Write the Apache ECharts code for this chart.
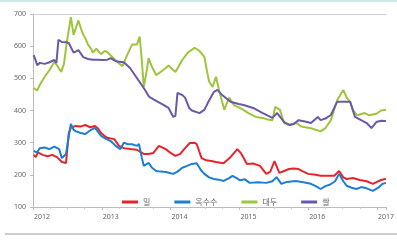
<!DOCTYPE html>
<html><head><meta charset="utf-8">
<script src="https://cdn.jsdelivr.net/npm/echarts@6/dist/echarts.min.js"></script>
<style>html,body{margin:0;padding:0;background:#fff}#c{width:397px;height:242px}</style>
</head><body><div id="c"></div>
<script>
const seriesNames = ['밀', '옥수수', '대두', '쌀'];
const yearTicks = [2012, 2013, 2014, 2015, 2016, 2017];

const wheat = [[2012.01,262],[2012.04,255],[2012.07,270],[2012.14,262],[2012.21,258],[2012.28,262],[2012.35,255],[2012.42,240],[2012.48,237],[2012.52,330],[2012.55,346],[2012.62,352],[2012.69,350],[2012.76,355],[2012.83,348],[2012.90,352],[2012.94,345],[2012.99,330],[2013.04,321],[2013.08,315],[2013.18,311],[2013.25,290],[2013.32,283],[2013.41,280],[2013.51,278],[2013.61,265],[2013.68,265],[2013.75,268],[2013.83,290],[2013.93,280],[2014.00,268],[2014.07,259],[2014.14,265],[2014.21,283],[2014.28,299],[2014.35,300],[2014.38,295],[2014.45,252],[2014.52,245],[2014.59,243],[2014.66,240],[2014.77,236],[2014.87,255],[2014.97,280],[2015.03,265],[2015.11,234],[2015.20,235],[2015.30,228],[2015.39,203],[2015.45,210],[2015.51,243],[2015.58,206],[2015.65,212],[2015.72,218],[2015.79,220],[2015.86,218],[2015.93,210],[2016.00,203],[2016.11,200],[2016.18,197],[2016.30,197],[2016.38,197],[2016.45,212],[2016.51,192],[2016.56,187],[2016.65,190],[2016.75,184],[2016.85,180],[2016.94,172],[2017.00,178],[2017.06,184],[2017.13,188]];

const corn = [[2012.01,274],[2012.06,270],[2012.10,283],[2012.17,285],[2012.24,280],[2012.31,288],[2012.38,280],[2012.42,252],[2012.48,265],[2012.52,320],[2012.55,358],[2012.59,340],[2012.62,336],[2012.69,330],[2012.76,327],[2012.83,338],[2012.90,346],[2012.94,335],[2012.99,321],[2013.06,312],[2013.13,305],[2013.20,290],[2013.27,280],[2013.32,300],[2013.37,296],[2013.44,295],[2013.51,290],[2013.54,296],[2013.58,255],[2013.61,228],[2013.68,237],[2013.73,222],[2013.79,212],[2013.86,210],[2013.93,209],[2014.00,205],[2014.04,203],[2014.10,210],[2014.17,222],[2014.24,228],[2014.31,234],[2014.38,236],[2014.44,215],[2014.49,203],[2014.56,192],[2014.63,187],[2014.70,185],[2014.77,181],[2014.85,190],[2014.90,197],[2014.96,190],[2015.01,183],[2015.08,186],[2015.15,175],[2015.27,177],[2015.39,175],[2015.48,180],[2015.54,193],[2015.61,172],[2015.69,178],[2015.82,181],[2015.93,177],[2016.04,172],[2016.11,165],[2016.18,156],[2016.25,165],[2016.32,170],[2016.39,180],[2016.45,203],[2016.51,180],[2016.56,166],[2016.63,160],[2016.70,156],[2016.77,162],[2016.85,158],[2016.94,150],[2017.03,162],[2017.08,172],[2017.13,175]];

const soybean = [[2012.01,470],[2012.06,462],[2012.10,480],[2012.17,505],[2012.24,526],[2012.31,551],[2012.35,540],[2012.41,520],[2012.45,545],[2012.49,610],[2012.55,690],[2012.59,635],[2012.66,680],[2012.72,640],[2012.76,625],[2012.80,605],[2012.85,590],[2012.87,580],[2012.92,592],[2012.94,590],[2012.99,575],[2013.04,585],[2013.08,582],[2013.16,565],[2013.23,550],[2013.30,538],[2013.37,573],[2013.44,605],[2013.51,605],[2013.55,630],[2013.58,560],[2013.61,473],[2013.65,520],[2013.68,563],[2013.72,540],[2013.79,510],[2013.89,525],[2013.97,540],[2014.07,520],[2014.17,557],[2014.25,580],[2014.35,595],[2014.42,585],[2014.49,567],[2014.54,510],[2014.56,490],[2014.61,473],[2014.66,505],[2014.71,458],[2014.78,402],[2014.85,440],[2014.92,417],[2014.99,410],[2015.06,402],[2015.13,392],[2015.24,380],[2015.34,377],[2015.41,372],[2015.48,370],[2015.52,411],[2015.59,402],[2015.65,361],[2015.72,355],[2015.83,361],[2015.90,350],[2016.04,345],[2016.18,335],[2016.25,345],[2016.33,370],[2016.42,432],[2016.51,464],[2016.56,440],[2016.61,427],[2016.65,402],[2016.71,385],[2016.82,392],[2016.89,385],[2016.99,390],[2017.06,400],[2017.13,402]];

const rice = [[2012.01,572],[2012.04,555],[2012.06,541],[2012.10,548],[2012.17,545],[2012.24,550],[2012.31,557],[2012.34,548],[2012.37,620],[2012.42,613],[2012.48,612],[2012.52,610],[2012.59,580],[2012.66,588],[2012.73,566],[2012.80,560],[2012.87,558],[2012.94,558],[2013.01,557],[2013.08,558],[2013.13,563],[2013.18,556],[2013.23,552],[2013.32,550],[2013.41,532],[2013.51,501],[2013.61,470],[2013.69,442],[2013.79,430],[2013.89,418],[2013.97,408],[2014.04,380],[2014.07,383],[2014.10,455],[2014.17,448],[2014.21,440],[2014.27,408],[2014.31,400],[2014.42,392],[2014.49,402],[2014.54,423],[2014.63,458],[2014.68,464],[2014.75,448],[2014.87,427],[2014.99,420],[2015.06,417],[2015.20,408],[2015.34,392],[2015.48,377],[2015.55,392],[2015.65,364],[2015.73,355],[2015.79,358],[2015.86,370],[2015.97,365],[2016.04,361],[2016.14,380],[2016.18,370],[2016.25,375],[2016.33,386],[2016.42,427],[2016.51,427],[2016.61,427],[2016.68,380],[2016.77,370],[2016.85,361],[2016.92,345],[2016.99,364],[2017.06,368],[2017.13,367]];

const colors = ['#e8242b', '#1c7ed2', '#9dc53e', '#6a58a8'];
const seriesData = [wheat, corn, soybean, rice];

const chart = echarts.init(document.getElementById('c'));
const axisText = {color: '#666', fontSize: 7, fontFamily: 'Noto Sans'};
chart.setOption({
  animation: false,
  color: colors,
  grid: {left: 33, right: 0, top: 14, bottom: 35},
  graphic: [
    {type: 'rect', shape: {x: 0, y: 0, width: 397, height: 2}, style: {fill: '#cfe9e6'}},
    {type: 'rect', shape: {x: 5, y: 233, width: 392, height: 2}, style: {fill: '#cccccc'}}
  ],
  legend: {
    data: seriesNames, left: 117, top: 193, itemWidth: 16, itemHeight: 3, itemGap: 24,
    icon: 'rect', textStyle: {color: '#666', fontSize: 8, fontFamily: 'Noto Sans CJK KR'}
  },
  xAxis: [{
    type: 'value', min: 2012, max: 2017.13, interval: 1,
    axisLine: {lineStyle: {color: '#bbb'}},
    axisTick: {length: 3, lineStyle: {color: '#bbb'}},
    minorTick: {show: true, splitNumber: 4, length: 2, lineStyle: {color: '#ccc'}},
    splitLine: {show: false},
    axisLabel: Object.assign({align: 'center', alignMinLabel: 'center', alignMaxLabel: 'center',
      padding: [0, 0, 0, 18], margin: 6, hideOverlap: false,
      formatter: v => yearTicks.includes(v) ? String(v) : ''}, axisText)
  }, {
    type: 'value', position: 'top', min: 2012, max: 2017.13,
    axisLine: {show: true, lineStyle: {color: '#cfcfcf'}},
    axisTick: {show: false}, axisLabel: {show: false}, splitLine: {show: false}
  }],
  yAxis: {
    type: 'value', min: 100, max: 700, interval: 100,
    axisLine: {show: true, lineStyle: {color: '#bbb'}},
    axisTick: {show: true, length: 3, lineStyle: {color: '#bbb'}},
    splitLine: {show: false},
    axisLabel: Object.assign({margin: 7}, axisText)
  },
  series: seriesNames.map((n, i) => ({
    name: n, type: 'line', data: seriesData[i], showSymbol: false, symbol: 'none',
    lineStyle: {width: 2, color: colors[i]}, itemStyle: {color: colors[i]}
  }))
});
</script></body></html>
